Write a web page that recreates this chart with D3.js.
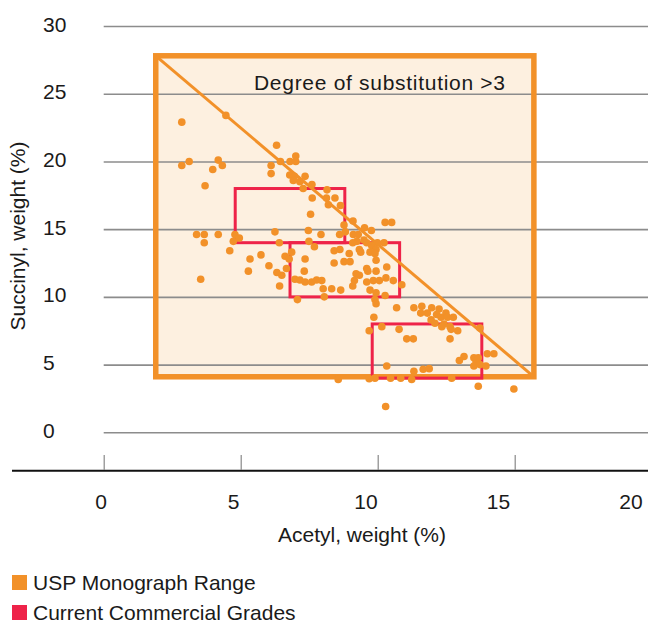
<!DOCTYPE html>
<html>
<head>
<meta charset="utf-8">
<script src="https://cdn.jsdelivr.net/npm/d3@7"></script>
<style>
  body { margin: 0; background: #fff; }
  svg text { font-family: "Liberation Sans", Arial, sans-serif; fill: #1a1a1a; }
</style>
</head>
<body>
<div id="chart"></div>
<script>
var width = 648;
var height = 623;

// Sample measurements (weight %)
var acetyl = [
  2.85,4.46,2.85,3.12,3.98,4.18,4.33,3.70,3.39,3.67,
  3.67,4.18,4.79,4.95,4.73,4.60,5.34,5.74,6.03,5.28,
  6.32,6.50,6.67,6.62,6.42,3.54,6.25,6.41,6.31,6.11,
  6.45,6.11,6.80,7.01,7.01,6.79,6.96,6.92,7.16,7.35,
  7.28,7.60,8.15,7.61,8.13,8.44,8.20,8.64,7.55,7.47,
  7.93,7.49,8.61,8.77,8.82,9.10,9.11,9.29,9.52,9.77,
  9.24,9.50,10.27,10.51,9.60,9.09,9.99,10.23,9.78,9.94,
  9.33,9.72,9.90,9.38,8.96,7.69,6.86,8.41,8.62,8.41,
  8.77,8.99,9.94,7.35,6.77,7.32,9.60,9.64,10.33,9.21,
  9.33,9.94,9.15,9.09,9.84,10.06,10.30,10.57,10.88,9.60,
  9.72,9.94,10.27,9.90,9.94,6.98,7.16,7.35,7.59,7.77,
  7.96,8.01,8.32,8.65,8.05,7.07,10.69,11.32,11.61,11.57,
  11.97,11.81,12.24,12.15,12.49,11.95,12.31,12.55,12.76,12.09,
  12.42,12.34,12.64,12.92,12.68,13.73,9.86,10.15,10.78,9.69,
  11.06,11.30,12.64,14.00,14.24,13.15,12.98,13.51,13.59,13.67,
  13.51,13.73,13.95,10.33,11.32,11.66,11.88,9.90,9.69,10.47,
  10.84,11.24,12.70,13.67,14.97,10.29,8.56
];
var succinyl = [
  22.9,23.4,19.7,20.0,19.4,20.1,19.7,18.2,14.6,14.6,
  14.0,14.6,14.6,14.35,14.1,13.4,12.8,13.1,12.3,11.9,
  11.8,11.6,12.1,13.0,10.8,11.3,14.8,14.0,21.2,19.7,
  20.0,19.1,20.0,20.4,20.0,19.0,18.9,18.6,18.5,18.9,
  18.0,18.3,17.9,17.3,17.3,17.3,16.8,16.75,16.1,14.9,
  14.6,14.1,14.6,15.3,14.8,15.6,14.6,14.6,15.1,14.9,
  14.1,14.2,15.5,15.5,14.0,14.0,14.0,14.0,13.8,13.5,
  13.5,13.3,13.2,13.3,13.2,13.7,13.3,13.4,13.5,12.5,
  12.6,12.6,12.7,12.8,12.8,11.9,12.1,11.9,12.2,11.7,
  11.6,11.9,11.2,10.8,11.2,11.2,11.4,11.2,10.9,11.1,
  10.5,10.3,10.1,9.8,9.5,11.3,11.25,11.1,11.1,11.25,
  11.2,10.6,10.6,10.5,10.0,9.8,9.2,9.2,9.3,8.8,
  9.2,8.8,9.1,8.7,8.8,8.3,8.5,8.5,8.5,8.05,
  8.0,7.8,7.8,7.5,7.6,7.7,8.5,7.8,7.6,7.5,
  6.9,6.9,6.9,5.8,5.8,5.6,5.3,5.5,5.2,5.5,
  4.9,5.0,4.9,4.9,4.5,4.65,4.7,4.0,3.95,4.0,
  4.0,3.9,4.0,3.4,3.2,1.9,3.9
];

// USP monograph range
var uspAcetyl = [1.9, 15.7];
var uspSuccinyl = [4.1, 27.8];

// Current commercial grades
var gradeAcetylLo = [4.8, 6.8, 9.8];
var gradeAcetylHi = [8.8, 10.8, 13.8];
var gradeSuccinylLo = [14, 10, 4];
var gradeSuccinylHi = [18, 14, 8];

var xTicks = [0, 5, 10, 15, 20];
var yTicks = [0, 5, 10, 15, 20, 25, 30];

var legendLabels = ["USP Monograph Range", "Current Commercial Grades"];

var orange = "#f29129";
var red = "#ee2349";

var points = acetyl.map(function(a, i) { return { a: a, s: succinyl[i] }; });
var grades = gradeAcetylLo.map(function(d, i) {
    return { a0: d, a1: gradeAcetylHi[i], s0: gradeSuccinylLo[i], s1: gradeSuccinylHi[i] };
});

var xScale = d3.scaleLinear().domain([0, 15]).range([103.7, 514.7]);
var yScale = d3.scaleLinear().domain([0, 30]).range([432.3, 26]);
// tick labels sit a little off the tick marks in the original
var xLabelScale = d3.scaleLinear().domain([0, 20]).range([101, 631]);

var svg = d3.select("#chart")
    .append("svg")
    .attr("width", width)
    .attr("height", height);

// USP box fill
svg.append("rect")
    .attr("x", xScale(uspAcetyl[0]))
    .attr("y", yScale(uspSuccinyl[1]))
    .attr("width", xScale(uspAcetyl[1]) - xScale(uspAcetyl[0]))
    .attr("height", yScale(uspSuccinyl[0]) - yScale(uspSuccinyl[1]))
    .attr("fill", "#fdf0e0");

// gridlines
svg.append("g")
    .attr("transform", "translate(" + xScale(0) + ",0)")
    .call(d3.axisRight(yScale).tickValues(yTicks).tickSize(width - xScale(0)).tickFormat(""))
    .call(function(g) { g.select(".domain").remove(); })
    .selectAll("line")
    .attr("stroke", "#8c8c8c")
    .attr("stroke-width", 1.6);

// y labels
svg.append("g")
    .selectAll("text")
    .data(yTicks)
    .enter()
    .append("text")
    .attr("x", 43)
    .attr("y", function(d) { return yScale(d) + 5.5; })
    .attr("font-size", 21)
    .text(function(d) { return d; });

// USP box outline
svg.append("rect")
    .attr("x", xScale(uspAcetyl[0]))
    .attr("y", yScale(uspSuccinyl[1]))
    .attr("width", xScale(uspAcetyl[1]) - xScale(uspAcetyl[0]))
    .attr("height", yScale(uspSuccinyl[0]) - yScale(uspSuccinyl[1]))
    .attr("fill", "none")
    .attr("stroke", orange)
    .attr("stroke-width", 5.5);

// commercial grade boxes
svg.append("g")
    .selectAll("rect")
    .data(grades)
    .enter()
    .append("rect")
    .attr("x", function(d) { return xScale(d.a0); })
    .attr("y", function(d) { return yScale(d.s1); })
    .attr("width", function(d) { return xScale(d.a1) - xScale(d.a0); })
    .attr("height", function(d) { return yScale(d.s0) - yScale(d.s1); })
    .attr("fill", "none")
    .attr("stroke", red)
    .attr("stroke-width", 3);

// DS > 3 diagonal
svg.append("line")
    .attr("x1", xScale(uspAcetyl[0]))
    .attr("y1", yScale(uspSuccinyl[1]))
    .attr("x2", xScale(uspAcetyl[1]))
    .attr("y2", yScale(uspSuccinyl[0]))
    .attr("stroke", orange)
    .attr("stroke-width", 3);

svg.append("text")
    .attr("x", 254)
    .attr("y", 90)
    .attr("font-size", 21)
    .attr("textLength", 251)
    .text("Degree of substitution >3");

// points
svg.append("g")
    .selectAll("circle")
    .data(points)
    .enter()
    .append("circle")
    .attr("cx", function(d) { return xScale(d.a); })
    .attr("cy", function(d) { return yScale(d.s); })
    .attr("r", 3.8)
    .attr("fill", orange);

// x axis
svg.append("line")
    .attr("x1", 12)
    .attr("x2", width)
    .attr("y1", 470.7)
    .attr("y2", 470.7)
    .attr("stroke", "#111")
    .attr("stroke-width", 2);

svg.append("g")
    .attr("transform", "translate(0,470)")
    .call(d3.axisTop(xScale).tickValues(xTicks).tickSize(15).tickFormat(""))
    .call(function(g) { g.select(".domain").remove(); })
    .selectAll("line")
    .attr("stroke", "#888")
    .attr("stroke-width", 1.2);

svg.append("g")
    .selectAll("text")
    .data(xTicks)
    .enter()
    .append("text")
    .attr("x", function(d) { return xLabelScale(d); })
    .attr("y", 509)
    .attr("font-size", 21)
    .attr("text-anchor", "middle")
    .text(function(d) { return d; });

svg.append("text")
    .attr("x", 362)
    .attr("y", 542)
    .attr("font-size", 21)
    .attr("text-anchor", "middle")
    .text("Acetyl, weight (%)");

svg.append("text")
    .attr("transform", "translate(25,236) rotate(-90)")
    .attr("font-size", 21)
    .attr("text-anchor", "middle")
    .text("Succinyl, weight (%)");

// legend
var legend = svg.append("g")
    .selectAll("g")
    .data(legendLabels)
    .enter()
    .append("g")
    .attr("transform", function(d, i) { return "translate(12," + (575 + i * 30) + ")"; });

legend.append("rect")
    .attr("width", 15)
    .attr("height", 15)
    .attr("fill", function(d, i) { return i == 0 ? orange : red; });

legend.append("text")
    .attr("x", 21)
    .attr("y", 15)
    .attr("font-size", 21)
    .text(function(d) { return d; });
</script>
</body>
</html>
